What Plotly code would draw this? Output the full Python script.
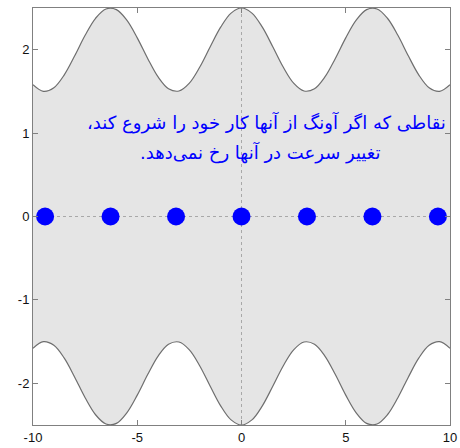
import plotly.graph_objects as go

# sampled boundary curve (upper); lower is its mirror
curve_x = [-10, -9.5, -9, -8.5, -8, -7.5, -7, -6.5, -6, -5.5, -5, -4.5, -4, -3.5, -3, -2.5, -2, -1.5, -1, -0.5,
           0, 0.5, 1, 1.5, 2, 2.5, 3, 3.5, 4, 4.5, 5, 5.5, 6, 6.5, 7, 7.5, 8, 8.5, 9, 9.5, 10]
upper_half = [1.580, 1.501, 1.544, 1.699, 1.927, 2.173, 2.377, 2.488, 2.480, 2.354, 2.142, 1.895, 1.673, 1.532,
              1.505, 1.599, 1.792, 2.035, 2.270, 2.439, 2.5]
upper_y = upper_half + upper_half[-2::-1]
lower_y = [-v for v in upper_y]

# equilibrium points
point_x = [-9.42, -6.28, -3.14, 0, 3.14, 6.28, 9.42]
point_y = [0, 0, 0, 0, 0, 0, 0]

x_ticks = [-10, -5, 0, 5, 10]
x_ticktext = ["-10", "-5", "0", "5", "10"]
y_ticks = [-2, -1, 0, 1, 2]
y_ticktext = ["-2", "-1", "0", "1", "2"]

label_line1 = "نقاطی که اگر آونگ از آنها کار خود را شروع کند،"
label_line2 = "تغییر سرعت در آنها رخ نمی‌دهد."

RLM = "\u200F"
PLOT_H = 448 - 8 - 23

fig = go.Figure()
fig.add_trace(go.Scatter(x=curve_x, y=lower_y, mode="lines", line=dict(color="#6e6e6e", width=1.2, shape="spline"),
                         hoverinfo="skip"))
fig.add_trace(go.Scatter(x=curve_x, y=upper_y, mode="lines", line=dict(color="#6e6e6e", width=1.2, shape="spline"),
                         fill="tonexty", fillcolor="#e5e5e5", hoverinfo="skip"))
# dotted zero lines
fig.add_trace(go.Scatter(x=[-10, 10], y=[0, 0], mode="lines", line=dict(color="#a8a8a8", width=1, dash="dot"),
                         hoverinfo="skip"))
fig.add_trace(go.Scatter(x=[0, 0], y=[-2.5, 2.5], mode="lines", line=dict(color="#a8a8a8", width=1, dash="dot"),
                         hoverinfo="skip"))
fig.add_trace(go.Scatter(x=point_x, y=point_y, mode="markers", marker=dict(color="#0000ff", size=18)))

txt_font = dict(family="DejaVu Sans", size=18, color="#0000ff")
fig.add_annotation(xref="paper", yref="paper", x=1.0 - 2/417, y=1 - (122 - 8)/PLOT_H, xanchor="right", yanchor="middle",
                   text=RLM + label_line1 + RLM, showarrow=False, font=txt_font)
fig.add_annotation(xref="paper", yref="paper", x=(382 - 33)/417, y=1 - (152 - 8)/PLOT_H, xanchor="right", yanchor="middle",
                   text=RLM + label_line2 + RLM, showarrow=False, font=txt_font)

axis_common = dict(showgrid=False, zeroline=False, showline=True, linecolor="#808080", linewidth=1, mirror="ticks",
                   ticks="inside", ticklen=5, tickcolor="#808080", automargin=False,
                   tickfont=dict(family="Liberation Sans", size=13, color="#111111"))
fig.update_xaxes(range=[-10, 10], tickvals=x_ticks, ticktext=x_ticktext, ticklabelstandoff=0, **axis_common)
fig.update_yaxes(range=[-2.5, 2.5], tickvals=y_ticks, ticktext=y_ticktext, **axis_common)

fig.update_layout(width=460, height=448, margin=dict(l=33, r=10, t=8, b=23), showlegend=False,
                  plot_bgcolor="white", paper_bgcolor="white")
fig.write_html("out.html")
